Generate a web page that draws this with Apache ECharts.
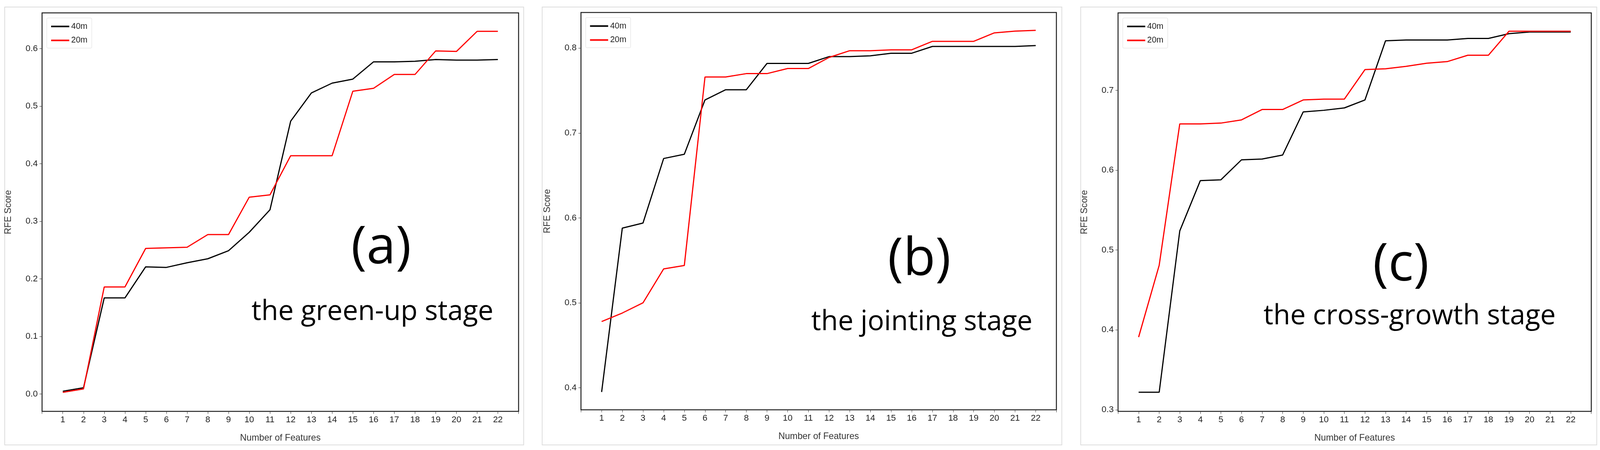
<!DOCTYPE html>
<html><head><meta charset="utf-8">
<script src="https://cdn.jsdelivr.net/npm/echarts@6/dist/echarts.min.js"></script>
<style>html,body{margin:0;padding:0;background:#fff;overflow:hidden;width:100%;height:100%}#c{width:100vw;height:100vh}</style>
</head><body><div id="c"></div>
<script>
const features = [1,2,3,4,5,6,7,8,9,10,11,12,13,14,15,16,17,18,19,20,21,22];
const a40 = [0.005,0.011,0.167,0.167,0.221,0.220,0.228,0.235,0.249,0.281,0.320,0.474,0.523,0.540,0.547,0.577,0.577,0.578,0.581,0.580,0.580,0.581];
const a20 = [0.003,0.009,0.186,0.186,0.253,0.254,0.255,0.277,0.277,0.342,0.346,0.414,0.414,0.414,0.526,0.531,0.555,0.555,0.596,0.595,0.630,0.630];
const b40 = [0.395,0.588,0.594,0.670,0.675,0.739,0.751,0.751,0.782,0.782,0.782,0.790,0.790,0.791,0.794,0.794,0.802,0.802,0.802,0.802,0.802,0.803];
const b20 = [0.478,0.488,0.500,0.540,0.544,0.766,0.766,0.770,0.770,0.776,0.776,0.789,0.797,0.797,0.798,0.798,0.808,0.808,0.808,0.818,0.820,0.821];
const c40 = [0.322,0.322,0.524,0.587,0.588,0.613,0.614,0.619,0.673,0.675,0.678,0.688,0.762,0.763,0.763,0.763,0.765,0.765,0.771,0.773,0.773,0.773];
const c20 = [0.391,0.481,0.658,0.658,0.659,0.663,0.676,0.676,0.688,0.689,0.689,0.726,0.727,0.730,0.734,0.736,0.744,0.744,0.774,0.774,0.774,0.774];
const aTicks = [0.0,0.1,0.2,0.3,0.4,0.5,0.6];
const bTicks = [0.4,0.5,0.6,0.7,0.8];
const cTicks = [0.3,0.4,0.5,0.6,0.7];
const panelLetters = ['(a)','(b)','(c)'];
const stageNames = ['the green-up stage','the jointing stage','the cross-growth stage'];

const el = document.getElementById('c');
const chart = echarts.init(el);
const W = chart.getWidth(), H = chart.getHeight();
const sx = W/4412, sy = H/1153, s = Math.min(sx, sy);

const grids = [[116,33,1314,1021],[1602,32,1311,1018],[3083,33,1305,1021]];
const yRanges = [[-0.03,0.662],[0.374,0.842],[0.298,0.797]];
const yTicks = [aTicks,bTicks,cTicks];
const data40 = [a40,b40,c40], data20 = [a20,b20,c20];
const boxes = [[13,18,1431,1122],[1495,18,1433,1122],[2980,18,1423,1122]];
const letterPos = [[1051,637],[2535,667],[3863,681]];
const stagePos = [[1027,800],[2542,826],[3887,811]];

const font = 'Liberation Sans';
const opt = {animation:false, backgroundColor:'#fff', grid:[], xAxis:[], yAxis:[], series:[], legend:[], graphic:[]};
for (let i=0;i<3;i++){
  const g = grids[i];
  opt.grid.push({show:true, borderColor:'#222', borderWidth:2.5, backgroundColor:'transparent',
    left:g[0]*sx, top:g[1]*sy, width:g[2]*sx, height:g[3]*sy});
  opt.xAxis.push({type:'value', gridIndex:i, min:0, max:23, interval:1,
    name:'Number of Features', nameLocation:'middle', nameGap:57*sy,
    nameTextStyle:{fontFamily:font, fontSize:25*s, color:'#333'},
    axisLine:{show:false, onZero:false}, splitLine:{show:false},
    axisTick:{show:true, length:7*s, lineStyle:{color:'#333'}},
    axisLabel:{fontFamily:font, fontSize:24*s, color:'#222', margin:12*s, formatter:v=>(v>=1&&v<=22)?String(v):''}});
  opt.yAxis.push({type:'value', gridIndex:i, min:yRanges[i][0], max:yRanges[i][1],
    name:'RFE Score', nameLocation:'middle', nameGap:80*sx,
    nameTextStyle:{fontFamily:font, fontSize:25*s, color:'#333'},
    axisLine:{show:false, onZero:false},
    splitLine:{show:false},
    axisTick:{show:true, length:7*s, customValues:yTicks[i], lineStyle:{color:'#333'}},
    axisLabel:{fontFamily:font, fontSize:24*s, color:'#222', margin:12*s, customValues:yTicks[i], formatter:v=>v.toFixed(1)}});
  opt.series.push({type:'line', name:'40m', xAxisIndex:i, yAxisIndex:i, symbol:'none',
    lineStyle:{color:'#000', width:3}, itemStyle:{color:'#000'},
    data:features.map((f,k)=>[f,data40[i][k]])});
  opt.series.push({type:'line', name:'20m', xAxisIndex:i, yAxisIndex:i, symbol:'none',
    lineStyle:{color:'#ff0000', width:3}, itemStyle:{color:'#ff0000'},
    data:features.map((f,k)=>[f,data20[i][k]])});
  opt.legend.push({orient:'vertical', left:(g[0]+13)*sx, top:(g[1]+13)*sy, data:['40m','20m'],
    itemWidth:50*s, itemHeight:4, itemGap:16*s, icon:'rect',
    textStyle:{fontFamily:font, fontSize:23*s, color:'#222'},
    backgroundColor:'#fff', borderColor:'#ddd', borderWidth:1, borderRadius:3, padding:[12*s,12*s,10*s,12*s]});
  const b = boxes[i];
  opt.graphic.push({type:'rect', z:-1, shape:{x:b[0]*sx, y:b[1]*sy, width:b[2]*sx, height:b[3]*sy}, style:{fill:'none', stroke:'#ddd', lineWidth:2}});
  opt.graphic.push({type:'text', z:10, x:letterPos[i][0]*sx, y:letterPos[i][1]*sy,
    style:{text:panelLetters[i], fontFamily:'Open Sans', fontSize:145*s, fill:'#000', align:'center', verticalAlign:'middle'}});
  opt.graphic.push({type:'text', z:10, x:stagePos[i][0]*sx, y:stagePos[i][1]*sy,
    style:{text:stageNames[i], fontFamily:'Open Sans', fontSize:76*s, fill:'#000', align:'center', verticalAlign:'middle'}});
}
chart.setOption(opt);
</script></body></html>
